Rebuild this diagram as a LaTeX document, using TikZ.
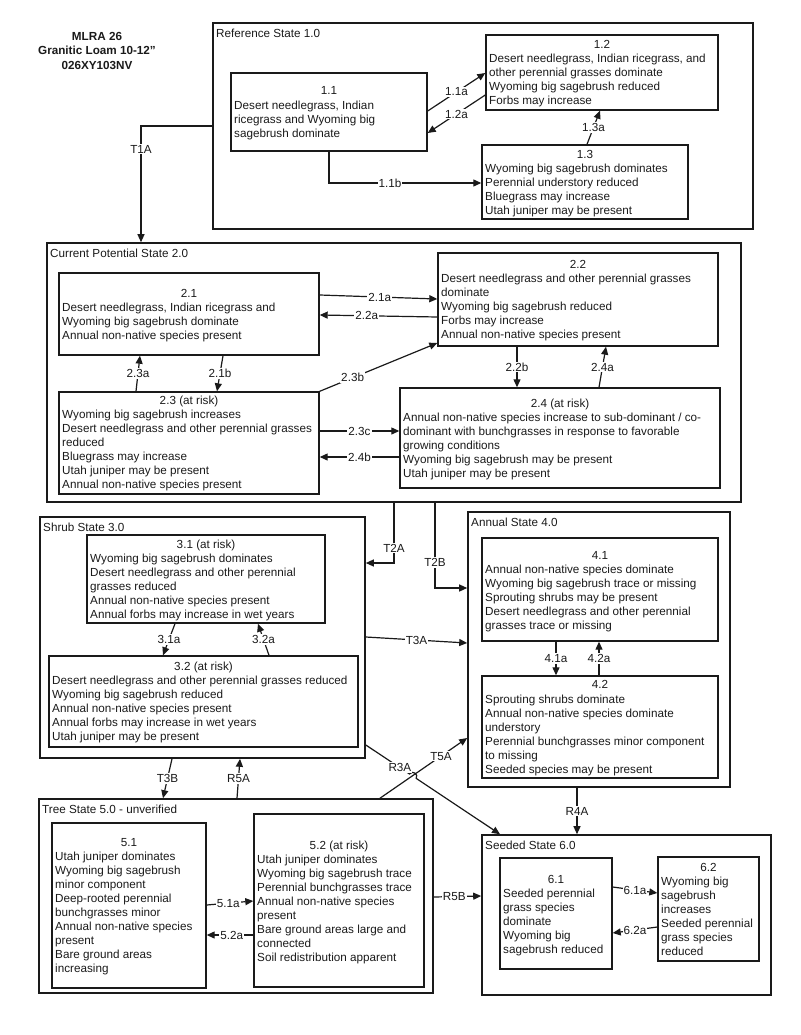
\documentclass[tikz,border=0pt]{standalone}
\usepackage{fontspec}
\setmainfont{Liberation Sans}
\usetikzlibrary{arrows.meta,fit,calc}
\newcommand\txt{\fontsize{11.7}{14.1}\selectfont}
\definecolor{ink}{HTML}{1A1A1A}
\tikzset{
  ibox/.style={draw=ink, line width=1.4pt, inner sep=0pt, rectangle},
  obox/.style={draw=ink, line width=1.6pt, inner sep=0pt, rectangle},
  hdr/.style={inner sep=0pt, font=\txt, text=ink},
  body/.style={inner sep=0pt, align=left, font=\txt, text=ink},
  olbl/.style={inner sep=0pt, font=\txt, text=ink},
  lbl/.style={fill=white, inner sep=1pt, font=\txt, text=ink},
  arr/.style={draw=ink, line width=1.2pt, -{Triangle[length=8pt,width=7pt]}},
}
% #1 name, #2 left, #3 top, #4 right, #5 bottom, #6 header, #7 header y, #8 body, #9 first line y
\newcommand{\mkbox}[9]{%
  \coordinate (#1nw) at (#2,#3);
  \coordinate (#1se) at (#4,#5);
  \node[ibox, fit=(#1nw)(#1se)] (#1) {};
  \node[hdr, anchor=base] (#1h) at ({(#2+#4)/2},{#7+4.2}) {#6};
  \node[body, anchor=north west] (#1t) at ({#2+3},{#9-4.5}) {#8};
}
\newcommand{\mkouter}[6]{%
  \coordinate (#1nw) at (#2,#3);
  \coordinate (#1se) at (#4,#5);
  \node[obox, fit=(#1nw)(#1se)] (#1) {};
  \node[olbl, anchor=north west] (#1l) at ({#2+3},{#3+5.5}) {#6};
}
\begin{document}
\begin{tikzpicture}[x=1pt,y=-1pt]
\useasboundingbox (0,0) rectangle (800,1035);

% title
\node[inner sep=0pt, align=center, font=\bfseries\fontsize{11.7}{14.5}\selectfont, text=ink, anchor=north] (title) at (97,32) {MLRA 26\\Granitic Loam 10-12"\\026XY103NV};

% outer states
\mkouter{s1}{213}{23}{753}{229}{Reference State 1.0}
\mkouter{s2}{47}{243}{741}{502}{Current Potential State 2.0}
\mkouter{s3}{40}{517}{365}{758}{Shrub State 3.0}
\mkouter{s4}{468}{512}{730}{787}{Annual State 4.0}
\mkouter{s5}{39}{799}{433}{993}{Tree State 5.0 - unverified}
\mkouter{s6}{482}{835}{771}{995}{Seeded State 6.0}

% state 1
\mkbox{b11}{231}{73}{427}{151}{1.1}{90}{Desert needlegrass, Indian\\ricegrass and Wyoming big\\sagebrush dominate}{105}
\mkbox{b12}{486}{35}{718}{110}{1.2}{44}{Desert needlegrass, Indian ricegrass, and\\other perennial grasses dominate\\Wyoming big sagebrush reduced\\Forbs may increase}{58}
\mkbox{b13}{482}{145}{688}{219}{1.3}{154}{Wyoming big sagebrush dominates\\Perennial understory reduced\\Bluegrass may increase\\Utah juniper may be present}{168}

% state 2
\mkbox{b21}{59}{273}{319}{355}{2.1}{293}{Desert needlegrass, Indian ricegrass and\\Wyoming big sagebrush dominate\\Annual non-native species present}{307}
\mkbox{b22}{438}{253}{718}{346}{2.2}{264}{Desert needlegrass and other perennial grasses\\dominate\\Wyoming big sagebrush reduced\\Forbs may increase\\Annual non-native species present}{278}
\mkbox{b23}{59}{392}{319}{494}{2.3 (at risk)}{400}{Wyoming big sagebrush increases\\Desert needlegrass and other perennial grasses\\reduced\\Bluegrass may increase\\Utah juniper may be present\\Annual non-native species present}{414}
\mkbox{b24}{400}{388}{720}{488}{2.4 (at risk)}{403}{Annual non-native species increase to sub-dominant / co-\\dominant with bunchgrasses in response to favorable\\growing conditions\\Wyoming big sagebrush may be present\\Utah juniper may be present}{417}

% state 3
\mkbox{b31}{87}{535}{325}{623}{3.1 (at risk)}{544}{Wyoming big sagebrush dominates\\Desert needlegrass and other perennial\\grasses reduced\\Annual non-native species present\\Annual forbs may increase in wet years}{558}
\mkbox{b32}{49}{656}{358}{747}{3.2 (at risk)}{666}{Desert needlegrass and other perennial grasses reduced\\Wyoming big sagebrush reduced\\Annual non-native species present\\Annual forbs may increase in wet years\\Utah juniper may be present}{680}

% state 4
\mkbox{b41}{482}{538}{718}{641}{4.1}{555}{Annual non-native species dominate\\Wyoming big sagebrush trace or missing\\Sprouting shrubs may be present\\Desert needlegrass and other perennial\\grasses trace or missing}{569}
\mkbox{b42}{482}{676}{718}{778}{4.2}{684}{Sprouting shrubs dominate\\Annual non-native species dominate\\understory\\Perennial bunchgrasses minor component\\to missing\\Seeded species may be present}{699}

% state 5
\mkbox{b51}{52}{823}{206}{988}{5.1}{842}{Utah juniper dominates\\Wyoming big sagebrush\\minor component\\Deep-rooted perennial\\bunchgrasses minor\\Annual non-native species\\present\\Bare ground areas\\increasing}{856}
\mkbox{b52}{254}{814}{424}{987}{5.2 (at risk)}{845}{Utah juniper dominates\\Wyoming big sagebrush trace\\Perennial bunchgrasses trace\\Annual non-native species\\present\\Bare ground areas large and\\connected\\Soil redistribution apparent}{859}

% state 6
\mkbox{b61}{500}{858}{612}{969}{6.1}{879}{Seeded perennial\\grass species\\dominate\\Wyoming big\\sagebrush reduced}{893}
\mkbox{b62}{658}{857}{759}{961}{6.2}{867}{Wyoming big\\sagebrush\\increases\\Seeded perennial\\grass species\\reduced}{881}

% connectors state 1
\draw[arr] (b11.east |- 0,111) -- node[lbl]{1.1a} (b12.west |- 0,73);
\draw[arr] (b12.west |- 0,95) -- node[lbl]{1.2a} (b11.east |- 0,133);
\draw[arr] (b13.north -| 587,0) -- node[lbl]{1.3a} (b12.south -| 600,0);
\draw[arr] (b11.south -| 329,0) -- (329,183) -- node[lbl,pos=0.4]{1.1b} (b13.west |- 0,183);
\draw[arr] (s1.west |- 0,126) -- (141,126) -- node[lbl,pos=0.2]{T1A} (s2.north -| 141,0);

% connectors state 2
\draw[arr] (b21.east |- 0,295) -- node[lbl,pos=0.51]{2.1a} (b22.west |- 0,299);
\draw[arr] (b22.west |- 0,317) -- node[lbl,pos=0.6]{2.2a} (b21.east |- 0,315);
\draw[arr] (b23.north east) -- node[lbl,pos=0.28]{2.3b} (b22.west |- 0,343);
\draw[arr] (b23.north -| 136,0) -- node[lbl]{2.3a} (b21.south -| 140,0);
\draw[arr] (b21.south -| 223,0) -- node[lbl]{2.1b} (b23.north -| 217,0);
\draw[arr] (b23.east |- 0,431) -- node[lbl]{2.3c} (b24.west |- 0,431);
\draw[arr] (b24.west |- 0,457) -- node[lbl]{2.4b} (b23.east |- 0,457);
\draw[arr] (b22.south -| 517,0) -- node[lbl]{2.2b} (b24.north -| 517,0);
\draw[arr] (b24.north -| 599,0) -- node[lbl]{2.4a} (b22.south -| 606,0);

% transitions from state 2
\draw[arr] (s2.south -| 394,0) -- node[lbl,pos=0.75]{T2A} (394,563) -- (s3.east |- 0,563);
\draw[arr] (s2.south -| 435,0) -- node[lbl,pos=0.7]{T2B} (435,588) -- (s4.west |- 0,588);

% state 3 connectors
\draw[arr] (b31.south -| 175,0) -- node[lbl]{3.1a} (b32.north -| 163,0);
\draw[arr] (b32.north -| 269,0) -- node[lbl]{3.2a} (b31.south -| 258,0);
\draw[arr] (s3.east |- 0,637) -- node[lbl]{T3A} (s4.west |- 0,643);
\draw[arr] (s3.south -| 172,0) -- node[lbl]{T3B} (s5.north -| 163,0);
\draw[arr] (s5.north -| 237,0) -- node[lbl]{R5A} (s3.south -| 240,0);
\draw[arr] (s3.east |- 0,745) -- node[lbl,pos=0.78]{R3A} (409.5,774.0) .. controls (412.2,769.8) and (418.9,774.2) .. (416.2,778.4) -- (s6.north -| 500,0);
\draw[arr] (s5.north -| 380,0) -- node[lbl,pos=0.7]{T5A} (s4.west |- 0,738);

% state 4 connectors
\draw[arr] (b41.south -| 556,0) -- node[lbl]{4.1a} (b42.north -| 556,0);
\draw[arr] (b42.north -| 599,0) -- node[lbl]{4.2a} (b41.south -| 599,0);
\draw[arr] (s4.south -| 577,0) -- node[lbl]{R4A} (s6.north -| 577,0);

% state 5 connectors
\draw[arr] (b51.east |- 0,905) -- node[lbl,pos=0.46]{5.1a} (b52.west |- 0,901);
\draw[arr] (b52.west |- 0,935) -- node[lbl,pos=0.46]{5.2a} (b51.east |- 0,935);
\draw[arr] (s5.east |- 0,897) -- node[lbl,pos=0.43]{R5B} (s6.west |- 0,896);

% state 6 connectors
\draw[arr] (b61.east |- 0,887) -- node[lbl]{6.1a} (b62.west |- 0,893);
\draw[arr] (b62.west |- 0,927) -- node[lbl]{6.2a} (b61.east |- 0,933);
\end{tikzpicture}
\end{document}
